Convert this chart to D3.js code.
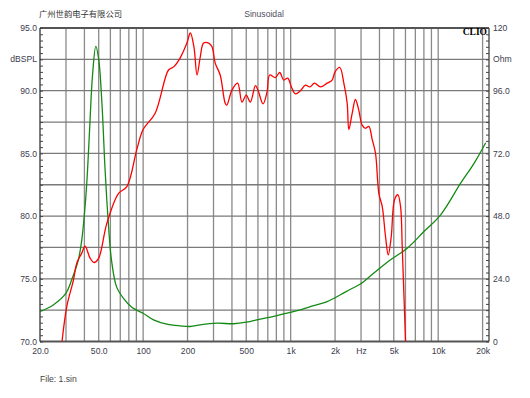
<!DOCTYPE html>
<html>
<head>
<meta charset="utf-8">
<script src="https://cdn.jsdelivr.net/npm/d3@7/dist/d3.min.js"></script>
<style>
  body { margin: 0; background: #fff; }
  text { font-family: "Liberation Sans", Arial, sans-serif; }
</style>
</head>
<body>
<svg width="530" height="398"></svg>
<script>
// SPL curve (red), dB vs Hz
const splFreq = [28.2, 30.4, 33.7, 35.5, 38.4, 40.4, 43.7, 46.5, 50, 56.7, 68, 77.6, 90.6, 100, 120.7, 148.6, 161, 178, 198, 209, 221, 232, 244, 257, 278, 293, 308, 333, 360, 369, 400, 437, 468, 500, 533, 577, 600, 650, 692, 721, 787, 843, 897, 955, 1012, 1077, 1165, 1259, 1350, 1450, 1593, 1768, 1910, 2000, 2154, 2293, 2416, 2479, 2612, 2749, 2895, 3053, 3215, 3386, 3572, 3760, 3963, 4177, 4397, 4587, 4805, 5059, 5333, 5559, 5705, 5852, 6011];
const splDb = [70.0, 72.8, 74.9, 76.25, 77.05, 77.6, 76.65, 76.3, 76.65, 79.4, 81.8, 82.35, 85.3, 86.9, 88.2, 91.65, 91.9, 92.6, 93.8, 94.6, 93.5, 91.25, 92.7, 93.8, 93.8, 93.5, 92.2, 91.25, 89.0, 88.85, 90.05, 90.6, 89.1, 89.65, 89.1, 90.4, 90.05, 88.95, 89.9, 91.25, 91.05, 91.45, 90.85, 91.0, 90.3, 89.75, 90.0, 90.45, 90.3, 90.6, 90.3, 90.6, 90.85, 91.5, 91.85, 90.6, 89.0, 86.9, 88.2, 89.3, 88.45, 87.25, 87.0, 87.15, 86.1, 85.0, 81.8, 80.75, 78.35, 76.9, 78.35, 81.3, 81.7, 80.75, 77.55, 73.85, 70.0];

// impedance curve (green), Ohm vs Hz
const impFreq = [20, 24.6, 30, 32.8, 36.4, 38.4, 40.4, 41.9, 43.7, 45.4, 47.8, 50, 52.6, 55.2, 57.9, 61, 66, 73.6, 84.2, 100, 117.5, 145, 178, 209, 244, 317, 410, 500, 623, 767, 946, 1165, 1433, 1768, 2177, 2545, 2972, 3665, 4754, 6169, 8000, 10390, 14200, 17500, 21000];
const impOhm = [11.5, 14.0, 18.5, 23.6, 31.3, 38.9, 51.6, 64.4, 85, 102, 113, 108, 91, 66, 46.6, 31.3, 21, 16.5, 13, 10.8, 8.3, 6.65, 6.0, 5.75, 6.4, 7.0, 6.8, 7.4, 8.6, 9.6, 10.9, 12.1, 13.7, 15.3, 17.9, 20.0, 22, 26.2, 31.3, 35.7, 42.1, 48.5, 60.6, 68.2, 76.1];

// axis ticks
const freqTicks = [20, 50, 100, 200, 500, 1000, 2000, 3000, 5000, 10000, 20000];
const freqLabels = ["20.0", "50.0", "100", "200", "500", "1k", "2k", "Hz", "5k", "10k", "20k"];
const dbTicks = [70, 75, 80, 85, 90, 95];
const ohmTicks = [0, 24, 48, 72, 96, 120];
const ohmLabels = ["0", "24.0", "48.0", "72.0", "96.0", "120"];

const plotL = 40, plotR = 489, plotT = 28, plotB = 341.5;

const svg = d3.select("svg");

const x = d3.scaleLog().domain([20, 22100]).range([plotL, plotR]);
const yL = d3.scaleLinear().domain([70, 95]).range([plotB, plotT]);
const yR = d3.scaleLinear().domain([0, 120]).range([plotB, plotT]);

// grid
const vGrid = [];
[10, 100, 1000].forEach(function (dec) {
    for (let k = 1; k <= 9; k++) {
        const f = k * dec;
        if (f > 20 && f < 20000) vGrid.push(f);
    }
});
vGrid.push(10000, 20000);

const grid = svg.append("g");
grid.selectAll(".v").data(vGrid).enter().append("line")
    .attr("x1", d => x(d)).attr("x2", d => x(d))
    .attr("y1", plotT).attr("y2", plotB)
    .attr("stroke", "#8a8a8a").attr("stroke-width", 1.3);

grid.selectAll(".h").data(d3.range(72.5, 95, 2.5)).enter().append("line")
    .attr("x1", plotL).attr("x2", plotR)
    .attr("y1", d => yL(d)).attr("y2", d => yL(d))
    .attr("stroke", "#7a7a7a").attr("stroke-width", 1.3);

// frame
svg.append("line").attr("x1", plotL).attr("x2", plotR).attr("y1", plotT).attr("y2", plotT)
    .attr("stroke", "#555").attr("stroke-width", 2);
svg.append("line").attr("x1", plotL).attr("x2", plotR).attr("y1", plotB).attr("y2", plotB)
    .attr("stroke", "#555").attr("stroke-width", 2);
svg.append("line").attr("x1", plotL).attr("x2", plotL).attr("y1", plotT).attr("y2", plotB)
    .attr("stroke", "#222").attr("stroke-width", 1.2);
svg.append("line").attr("x1", plotR).attr("x2", plotR).attr("y1", plotT).attr("y2", plotB)
    .attr("stroke", "#333").attr("stroke-width", 1.2);

// minor ticks
svg.append("g").attr("transform", "translate(" + plotL + ",0)")
    .call(d3.axisRight(yL).tickValues(d3.range(70, 95.01, 0.5)).tickSize(3).tickFormat(""))
    .call(g => g.select(".domain").remove())
    .selectAll("line").attr("stroke", "#444");
svg.append("g").attr("transform", "translate(" + plotR + ",0)")
    .call(d3.axisLeft(yR).tickValues(d3.range(0, 120.01, 2.4)).tickSize(3).tickFormat(""))
    .call(g => g.select(".domain").remove())
    .selectAll("line").attr("stroke", "#444");

// tick labels
const labelColor = "#3c3c4c";
svg.append("g").attr("transform", "translate(" + (plotL - 1) + ",0)")
    .call(d3.axisLeft(yL).tickValues(dbTicks).tickSize(0).tickPadding(2).tickFormat(d3.format(".1f")))
    .call(g => g.select(".domain").remove())
    .selectAll("text").attr("fill", labelColor).style("font-size", "8.6px");

svg.append("g").attr("transform", "translate(" + (plotR + 1) + ",0)")
    .call(d3.axisRight(yR).tickValues(ohmTicks).tickSize(0).tickPadding(3).tickFormat((d, i) => ohmLabels[i]))
    .call(g => g.select(".domain").remove())
    .selectAll("text").attr("fill", labelColor).style("font-size", "8.6px");

svg.append("g").attr("transform", "translate(0," + (plotB + 2) + ")")
    .call(d3.axisBottom(x).tickValues(freqTicks).tickSize(0).tickPadding(4).tickFormat((d, i) => freqLabels[i]))
    .call(g => g.select(".domain").remove())
    .selectAll("text").attr("fill", labelColor).style("font-size", "8.6px");

svg.append("text").attr("x", plotL - 3).attr("y", yL(92.5)).attr("dy", "0.32em")
    .attr("text-anchor", "end").attr("fill", labelColor).style("font-size", "8.6px").text("dBSPL");
svg.append("text").attr("x", plotR + 4).attr("y", yR(108)).attr("dy", "0.32em")
    .attr("fill", labelColor).style("font-size", "8.6px").text("Ohm");

// titles
svg.append("text").attr("x", 39).attr("y", 17)
    .style("font-family", "'Noto Sans CJK SC', sans-serif").style("font-size", "8.3px")
    .attr("fill", "#333").text("广州世韵电子有限公司");
svg.append("text").attr("x", 264).attr("y", 17).attr("text-anchor", "middle")
    .style("font-size", "8.6px").attr("fill", "#505060").text("Sinusoidal");
svg.append("text").attr("x", 40).attr("y", 382)
    .style("font-size", "8.6px").attr("fill", "#444").text("File: 1.sin");
svg.append("text").attr("x", 487).attr("y", 35).attr("text-anchor", "end")
    .style("font-family", "'Liberation Serif', serif").style("font-size", "9.5px")
    .style("font-weight", "bold").attr("fill", "#000").text("CLIO");

// curves
svg.append("clipPath").attr("id", "plot").append("rect")
    .attr("x", plotL).attr("y", plotT).attr("width", plotR - plotL).attr("height", plotB - plotT);

const splLine = d3.line()
    .x((d, i) => x(splFreq[i]))
    .y(d => yL(d))
    .curve(d3.curveCatmullRom.alpha(0.5));
const impLine = d3.line()
    .x((d, i) => x(impFreq[i]))
    .y(d => yR(d))
    .curve(d3.curveCatmullRom.alpha(0.5));

svg.append("path").datum(impOhm)
    .attr("clip-path", "url(#plot)")
    .attr("fill", "none").attr("stroke", "#138a13").attr("stroke-width", 1.3)
    .attr("d", impLine);

svg.append("path").datum(splDb)
    .attr("clip-path", "url(#plot)")
    .attr("fill", "none").attr("stroke", "#ff0000").attr("stroke-width", 1.3)
    .attr("d", splLine);
</script>
</body>
</html>
